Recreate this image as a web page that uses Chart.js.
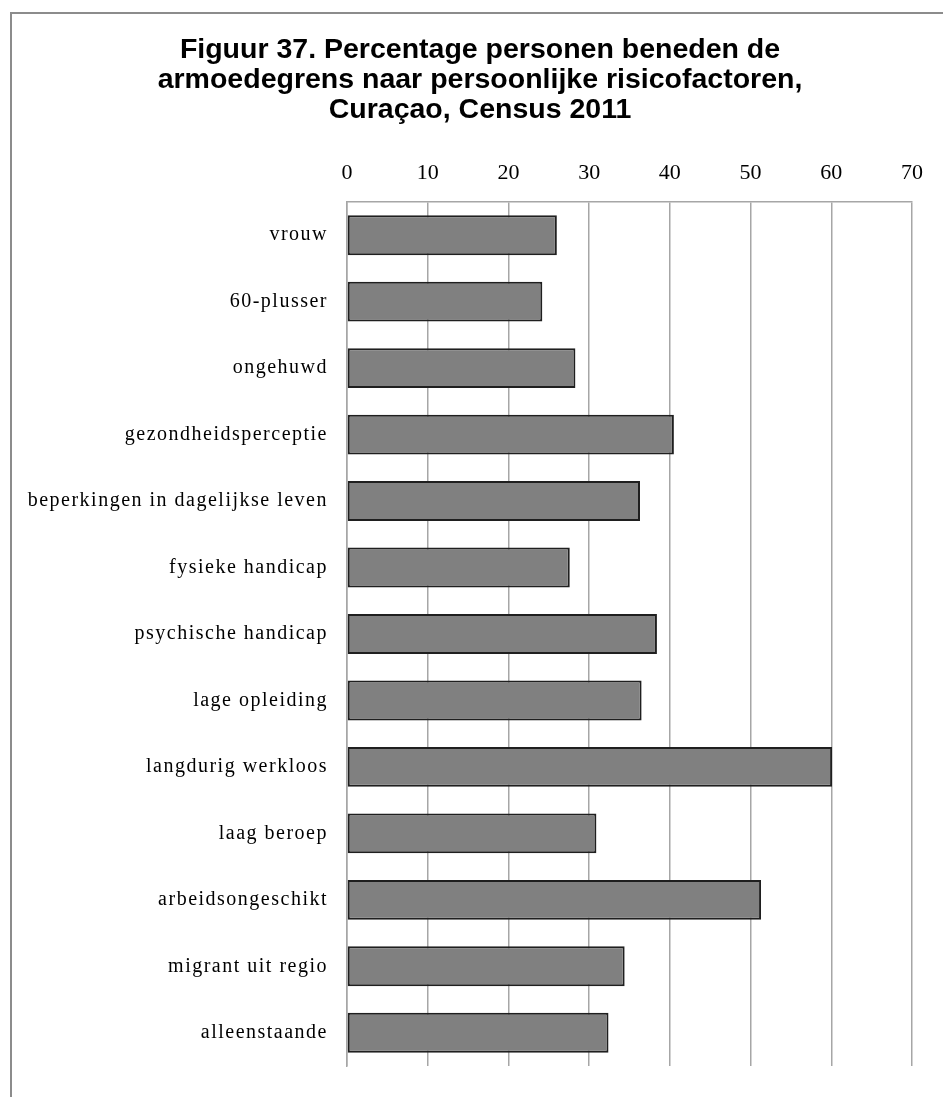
<!DOCTYPE html>
<html>
<head>
<meta charset="utf-8">
<script src="https://cdn.jsdelivr.net/npm/chart.js@4.4.0/dist/chart.umd.min.js"></script>
<style>
  html, body { margin: 0; padding: 0; background: #ffffff; }
  #wrap { position: relative; width: 943px; height: 1097px; }
  #frame { position: absolute; left: 10px; top: 12px; right: -5px; bottom: -5px;
           border-left: 2px solid #8c8c8c; border-top: 2px solid #8c8c8c; pointer-events: none; }
  canvas { position: absolute; left: 0; top: 0; }
</style>
</head>
<body>
<div id="wrap">
  <canvas id="c" width="943" height="1097"></canvas>
  <div id="frame"></div>
</div>
<script>
const titleLines = [
  "Figuur 37. Percentage personen beneden de",
  "armoedegrens naar persoonlijke risicofactoren,",
  "Curaçao, Census 2011"
];
const categories = [
  "vrouw",
  "60-plusser",
  "ongehuwd",
  "gezondheidsperceptie",
  "beperkingen in dagelijkse leven",
  "fysieke handicap",
  "psychische handicap",
  "lage opleiding",
  "langdurig werkloos",
  "laag beroep",
  "arbeidsongeschikt",
  "migrant uit regio",
  "alleenstaande"
];
const percentages = [26.0, 24.2, 28.3, 40.5, 36.3, 27.6, 38.4, 36.5, 60.1, 30.9, 51.3, 34.4, 32.4];
const axisMin = 0;
const axisMax = 70;
const axisStep = 10;

// widen letter spacing of the category labels only, and centre the title over the frame
const layoutTweaks = {
  id: 'layoutTweaks',
  afterLayout(chart) {
    if (chart.titleBlock) { chart.titleBlock.left = 48; }
    const ys = chart.scales.y;
    if (!ys || ys._spacedPatched) return;
    const orig = Object.getPrototypeOf(ys).drawLabels;
    ys.drawLabels = function (area) {
      const ctx = this.ctx;
      ctx.save();
      ctx.letterSpacing = '1.5px';
      orig.call(this, area);
      ctx.restore();
    };
    ys._spacedPatched = true;
  }
};

new Chart(document.getElementById('c'), {
  type: 'bar',
  data: {
    labels: categories,
    datasets: [{
      data: percentages,
      backgroundColor: '#808080',
      borderColor: '#1f1f1f',
      borderWidth: 2,
      borderSkipped: false,
      barPercentage: 0.6,
      categoryPercentage: 1.0
    }]
  },
  options: {
    indexAxis: 'y',
    responsive: false,
    animation: false,
    layout: { padding: { left: 0, right: 31, top: 0, bottom: 22 } },
    plugins: {
      legend: { display: false },
      tooltip: { enabled: false },
      title: {
        display: true,
        text: titleLines,
        color: '#000000',
        font: { family: '"Liberation Sans", Arial, sans-serif', size: 28.5, weight: 'bold', lineHeight: 1.05 },
        padding: { top: 35, bottom: 10 }
      }
    },
    scales: {
      x: {
        position: 'top',
        min: axisMin,
        max: axisMax,
        ticks: {
          stepSize: axisStep,
          color: '#000000',
          padding: 16,
          font: { family: '"Liberation Serif", "Times New Roman", serif', size: 22 }
        },
        grid: { color: '#a6a6a6', lineWidth: 1.5, drawTicks: false },
        border: { display: true, color: '#a6a6a6', width: 1.5 },
        afterFit: (s) => { s.height = 67.2; }
      },
      y: {
        ticks: {
          color: '#000000',
          padding: 19,
          autoSkip: false,
          font: { family: '"Liberation Serif", "Times New Roman", serif', size: 20 }
        },
        grid: { display: false, drawTicks: false },
        border: { display: true, color: '#a6a6a6', width: 1.5 },
        afterFit: (s) => { s.width = 347; }
      }
    }
  },
  plugins: [layoutTweaks]
});
</script>
</body>
</html>
